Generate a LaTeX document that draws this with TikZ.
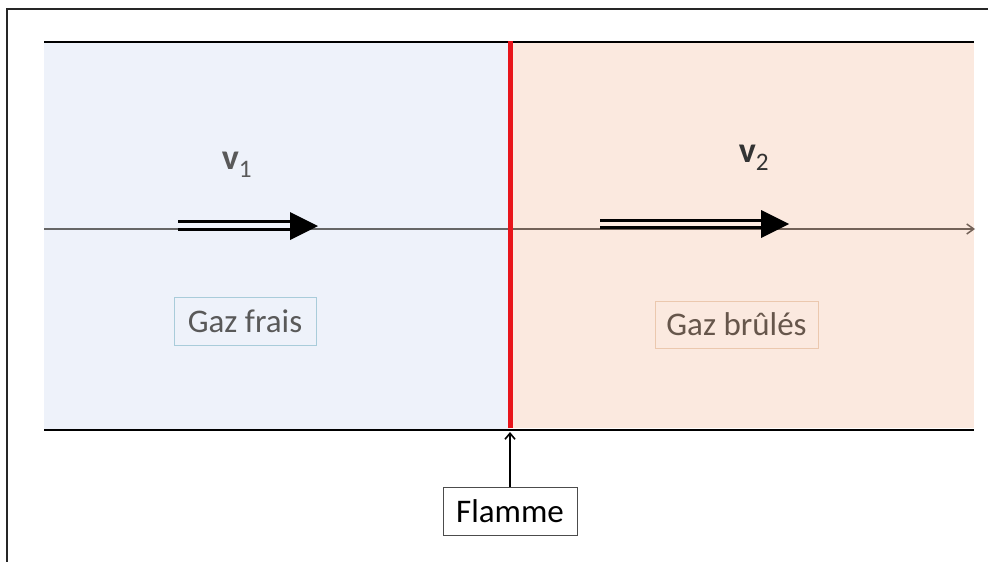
\documentclass[tikz,border=0pt]{standalone}
\usepackage{fontspec}
\setmainfont{Carlito}
\usetikzlibrary{arrows.meta}
\definecolor{coldgas}{HTML}{EEF2FA}
\definecolor{hotgas}{HTML}{FBE9DF}
\definecolor{coldtext}{HTML}{595959}
\definecolor{hottext}{HTML}{66564B}
\definecolor{coldedge}{HTML}{A9CCDA}
\definecolor{hotedge}{HTML}{EBC8AE}
\definecolor{flame}{HTML}{E8141A}
\tikzset{
  wall/.style={line width=2pt, black},
  labelbox/.style={draw, line width=0.8pt, inner xsep=7pt, inner ysep=6pt, font=\fontsize{33}{35}\selectfont},
  speed/.style={font=\fontsize{36}{38}\selectfont\bfseries},
  rail/.style={line width=3pt, black},
  head/.style={fill=black, draw=none}
}
\begin{document}
\begin{tikzpicture}[x=1pt,y=-1pt]
\useasboundingbox (0,0) rectangle (988,562);
\fill[white] (0,0) rectangle (988,562);
% outer frame
\draw[line width=1.6pt, black!85] (7,562) -- (7,9) -- (988,9);
% gas regions
\fill[coldgas] (44,42) rectangle (510,430);
\fill[hotgas] (510,42) rectangle (974,428);
% tube walls
\coordinate (tl) at (44,42);
\coordinate (tr) at (974,42);
\coordinate (bl) at (44,430);
\coordinate (br) at (974,430);
\draw[wall] (tl) -- (tr);
\draw[wall] (bl) -- (br);
% flow axis
\coordinate (ax0) at (44,229);
\coordinate (axm) at (510,229);
\coordinate (ax1) at (975,229);
\draw[line width=1.5pt, black!60] (ax0) -- (axm);
\draw[line width=1.5pt, color={rgb,255:red,115;green,98;blue,88}, -{Straight Barb[length=7pt,width=10pt,line width=1.5pt]}] (axm) -- (ax1);
% flame front
\coordinate (ft) at (510,41);
\coordinate (fb) at (510,428);
\draw[line width=5pt, flame] (ft) -- (fb);
% velocity arrows
\coordinate (a1) at (178,221.5);
\coordinate (a1b) at (178,229);
\coordinate (a1e) at (293,221.5);
\coordinate (a1f) at (293,229);
\draw[rail] (a1) -- (a1e);
\draw[rail] (a1b) -- (a1f);
\fill[head] (290,212) -- (318,226) -- (290,240) -- cycle;
\coordinate (a2) at (600,220);
\coordinate (a2b) at (600,227.5);
\coordinate (a2e) at (764,220);
\coordinate (a2f) at (764,227.5);
\draw[rail] (a2) -- (a2e);
\draw[rail] (a2b) -- (a2f);
\fill[head] (761,210) -- (789,224) -- (761,238) -- cycle;
\node[speed, text=coldtext] (v1) at (237,165) {v\textsubscript{\mdseries 1}};
\node[speed, text=black!80] (v2) at (754,158) {v\textsubscript{\mdseries 2}};
% labels
\node[labelbox, draw=coldedge, text=coldtext, minimum width=142pt, minimum height=48pt] (cold) at (245,321) {Gaz frais};
\node[labelbox, draw=hotedge, text=hottext, minimum width=163pt, minimum height=47pt] (hot) at (736.5,324.5) {Gaz brûlés};
\node[labelbox, draw=black!70, text=black, line width=1pt, minimum width=134pt, minimum height=48pt] (fl) at (510,511) {Flamme};
\draw[line width=1.6pt, -{Straight Barb[length=6pt,width=10pt,line width=1.6pt]}] (fl.north) -- (510,432);
\end{tikzpicture}
\end{document}
